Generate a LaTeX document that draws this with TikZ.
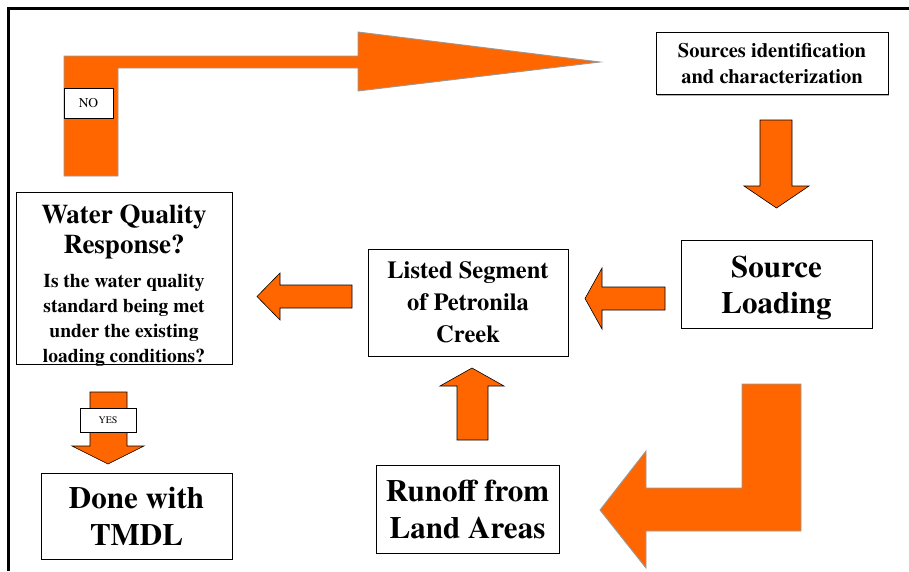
\documentclass[tikz,border=0pt]{standalone}
\usepackage{fontspec}
\setmainfont{texgyretermes}[Extension=.otf, UprightFont=*-regular, BoldFont=*-bold, ItalicFont=*-italic, BoldItalicFont=*-bolditalic]
\usetikzlibrary{shadows}
\definecolor{orng}{HTML}{FF6600}
\definecolor{edgegray}{HTML}{999999}
\tikzset{
  box/.style={draw=black, line width=0.8pt, fill=white, inner sep=0pt, align=center,
              drop shadow={shadow xshift=1.2pt, shadow yshift=-1.2pt, fill=gray!60, opacity=1}},
  tagbox/.style={draw=black, line width=0.7pt, fill=white, inner sep=0pt, align=center},
  blockarrow/.style={fill=orng, draw=black, line width=0.6pt, line join=miter},
  bigarrow/.style={fill=orng, draw=edgegray, line width=0.9pt, line join=miter},
  fbig/.style={font=\fontsize{31}{37}\selectfont\bfseries},
  plaintext/.style={align=center, inner sep=0pt},
}
\begin{document}
\begin{tikzpicture}[x={(1pt,0)}, y={(0,-1pt)}]
\useasboundingbox (0,0) rectangle (909,571);
% frame
\draw[line width=3pt] (8.5,571) -- (8.5,8.5) -- (909,8.5);

% big NO loop arrow
\draw[bigarrow] (64,176) -- (64,56) -- (358,56) -- (358,32) -- (600,62) -- (358,91) -- (358,68) -- (118,68) -- (118,176) -- cycle;
\node[tagbox, minimum width=49pt, minimum height=30pt, font=\fontsize{13.5}{15}\selectfont] (no) at (88.5,103) {NO};

% boxes
\node[box, minimum width=232pt, minimum height=62pt, font=\fontsize{20.5}{26}\selectfont\bfseries] (src) at (772,63.5) {Sources identification\\and characterization};
\node[box, minimum width=191pt, minimum height=88pt] (load) at (776.5,284) {};
\node[plaintext, font=\fontsize{31}{36}\selectfont\bfseries] (loadtext) at (776.5,288) {Source\\Loading};
\node[box, minimum width=200pt, minimum height=107pt, font=\fontsize{24.5}{32}\selectfont\bfseries] (listed) at (468,302.5) {Listed Segment\\of Petronila\\Creek};
\node[box, minimum width=216pt, minimum height=172pt] (wq) at (124,278) {};
\node[plaintext, font=\fontsize{27}{30}\selectfont\bfseries] (wqtitle) at (124,232) {Water Quality\\Response?};
\node[plaintext, font=\fontsize{19.5}{25}\selectfont\bfseries] (wqtext) at (124,320) {Is the water quality\\standard being met\\under the existing\\loading conditions?};
\node[box, fbig, minimum width=191pt, minimum height=86pt] (done) at (136.5,516) {Done with\\TMDL};
\node[box, fbig, minimum width=183pt, minimum height=88pt] (runoff) at (467.5,509) {Runoff from\\Land Areas};

% block arrows
\draw[blockarrow] (760,120) -- (792,120) -- (792,186) -- (809,186) -- (776.5,208) -- (744,186) -- (760,186) -- cycle;
\draw[blockarrow] (665,287) -- (665,310) -- (602,310) -- (602,329) -- (585,298.5) -- (602,268) -- (602,287) -- cycle;
\draw[blockarrow] (352,285) -- (352,308) -- (280,308) -- (280,320) -- (257,296.5) -- (280,273) -- (280,285) -- cycle;
\draw[blockarrow] (90,392) -- (127,392) -- (127,446) -- (144,446) -- (108,464) -- (72,446) -- (90,446) -- cycle;
\draw[blockarrow] (457,440) -- (457,386) -- (440,386) -- (472,368) -- (504,386) -- (488,386) -- (488,440) -- cycle;
\node[tagbox, minimum width=56pt, minimum height=24pt, font=\fontsize{10}{12}\selectfont] (yes) at (108,420) {YES};

% big return arrow
\draw[bigarrow] (742,384) -- (801,384) -- (801,531) -- (646,531) -- (646,568) -- (600,510) -- (646,451) -- (646,488) -- (742,488) -- cycle;
\end{tikzpicture}
\end{document}
